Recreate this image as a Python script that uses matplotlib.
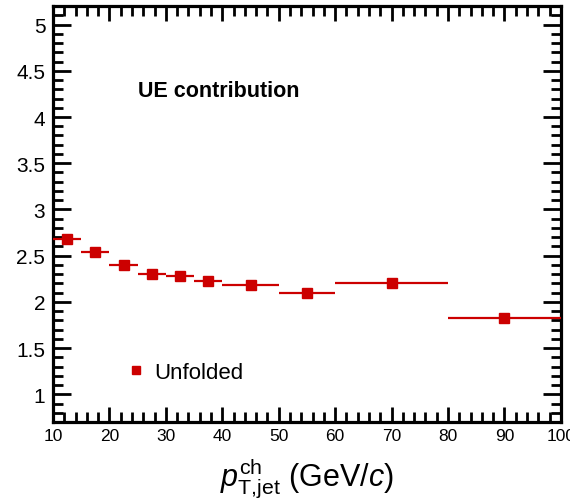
import matplotlib
matplotlib.use('Agg')
import matplotlib.pyplot as plt
from matplotlib.lines import Line2D
from matplotlib.ticker import MultipleLocator, FormatStrFormatter

plt.rcParams['font.family'] = ['Liberation Sans', 'DejaVu Sans']
plt.rcParams['mathtext.fontset'] = 'custom'
plt.rcParams['mathtext.rm'] = 'Liberation Sans'
plt.rcParams['mathtext.it'] = 'Liberation Sans:italic'
plt.rcParams['mathtext.bf'] = 'Liberation Sans:bold'

# bins in pT,jet (GeV/c)
bin_lo = [10, 15, 20, 25, 30, 35, 40, 50, 60, 80]
bin_hi = [15, 20, 25, 30, 35, 40, 50, 60, 80, 100]
# UE contribution, unfolded
ue_vals = [2.68, 2.54, 2.40, 2.30, 2.28, 2.23, 2.18, 2.10, 2.20, 1.83]

x_mid = [(a + b) / 2 for a, b in zip(bin_lo, bin_hi)]
x_err = [(b - a) / 2 for a, b in zip(bin_lo, bin_hi)]

red = '#cc0000'

fig = plt.figure(figsize=(5.70, 5.02), dpi=100)
ax = fig.add_axes([0.093, 0.157, 0.891, 0.829])

ax.errorbar(x_mid, ue_vals, xerr=x_err, fmt='s', color=red, ms=6.5,
            elinewidth=1.6, capsize=0, zorder=3)

ax.set_xlim(10, 100)
ax.set_ylim(0.7, 5.2)

ax.xaxis.set_major_locator(MultipleLocator(10))
ax.xaxis.set_minor_locator(MultipleLocator(2))
ax.yaxis.set_major_locator(MultipleLocator(0.5))
ax.yaxis.set_minor_locator(MultipleLocator(0.1))
ax.yaxis.set_major_formatter(FormatStrFormatter('%g'))

for s in ax.spines.values():
    s.set_linewidth(2.3)

ax.tick_params(which='both', direction='in', top=True, right=True, width=2)
ax.tick_params(which='major', length=13)
ax.tick_params(which='minor', length=7)
ax.tick_params(axis='x', which='major', labelsize=12.5, pad=4, length=11)
ax.tick_params(axis='y', which='major', labelsize=15, pad=5.5)

ax.set_xlabel(r'$p_{\mathrm{T{,}jet}}^{\mathrm{ch}}$ (GeV/$c$)', fontsize=22)
ax.xaxis.set_label_coords(0.5, -0.08)

ax.text(0.167, 0.796, 'UE contribution', transform=ax.transAxes,
        fontsize=15.5, fontweight='bold', va='center')

handle = Line2D([], [], marker='s', color=red, ls='none', ms=6)
ax.legend([handle], ['Unfolded'], loc='center left',
          bbox_to_anchor=(0.146, 0.12), frameon=False, fontsize=16,
          handletextpad=0.4, handlelength=0.8, borderpad=0, borderaxespad=0)

fig.savefig('out.png', dpi=100)
